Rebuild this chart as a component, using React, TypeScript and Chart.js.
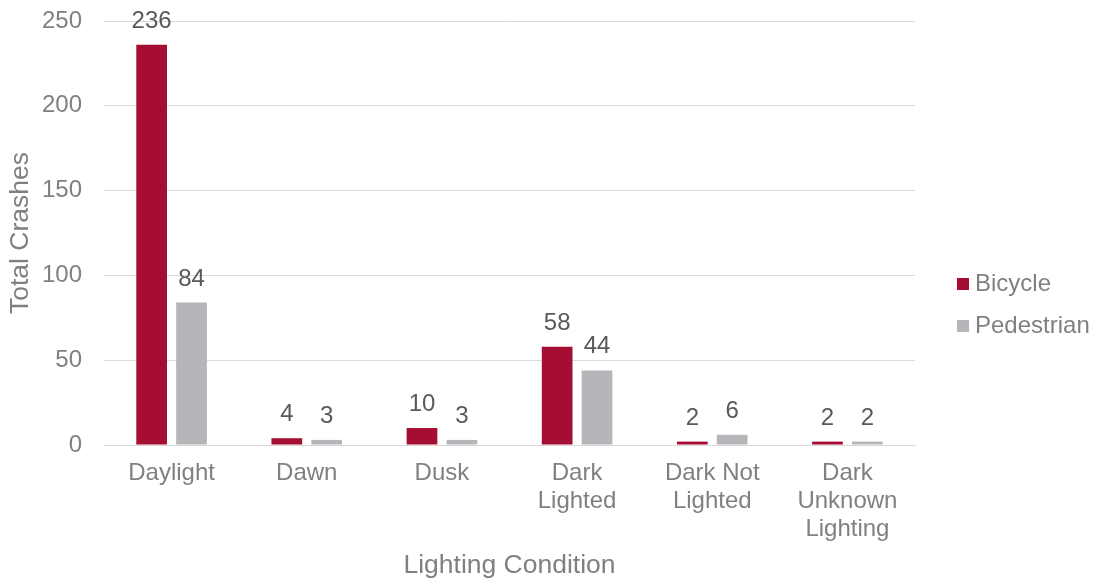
import React, { useEffect, useRef } from "react";
import { Chart, registerables } from "chart.js";

Chart.register(...registerables);

const categories: (string | string[])[] = [
  "Daylight",
  "Dawn",
  "Dusk",
  ["Dark", "Lighted"],
  ["Dark Not", "Lighted"],
  ["Dark", "Unknown", "Lighting"],
];
const bicycleValues = [236, 4, 10, 58, 2, 2];
const pedestrianValues = [84, 3, 3, 44, 6, 2];
const seriesNames = ["Bicycle", "Pedestrian"];
const seriesColors = ["#A50D33", "#B5B6B9"];
const yTicks = [0, 50, 100, 150, 200, 250];

const FONT = "Arial, 'Liberation Sans', Helvetica, sans-serif";
const TEXT_GREY = "#808080";
const LABEL_GREY = "#595959";
const FS = 24;
const TITLE_FS = 26.5;

const dataLabelPlugin = {
  id: "dataLabels",
  afterDatasetsDraw(chart: any) {
    const ctx = chart.ctx;
    ctx.save();
    ctx.font = `${FS}px ${FONT}`;
    ctx.fillStyle = LABEL_GREY;
    ctx.textAlign = "center";
    ctx.textBaseline = "alphabetic";
    chart.data.datasets.forEach((ds: any, di: number) => {
      const meta = chart.getDatasetMeta(di);
      meta.data.forEach((bar: any, i: number) => {
        ctx.fillText(String(ds.data[i]), bar.x, bar.y - 17);
      });
    });
    ctx.restore();
  },
};

const legendPlugin = {
  id: "customLegend",
  afterDraw(chart: any) {
    const ctx = chart.ctx;
    ctx.save();
    ctx.font = `${FS}px ${FONT}`;
    ctx.textBaseline = "middle";
    ctx.textAlign = "left";
    const x = chart.chartArea.right + 42;
    const yStart = 284;
    const step = 42;
    seriesNames.forEach((name, i) => {
      const y = yStart + i * step;
      ctx.fillStyle = seriesColors[i];
      ctx.fillRect(x, y - 6, 12, 12);
      ctx.fillStyle = TEXT_GREY;
      ctx.fillText(name, x + 18, y);
    });
    ctx.restore();
  },
};

export default function App() {
  const canvasRef = useRef<HTMLCanvasElement | null>(null);

  useEffect(() => {
    if (!canvasRef.current) return;
    const chart = new Chart(canvasRef.current, {
      type: "bar",
      data: {
        labels: categories,
        datasets: [
          {
            label: seriesNames[0],
            data: bicycleValues,
            backgroundColor: seriesColors[0],
            categoryPercentage: 0.59,
            barPercentage: 0.77,
          },
          {
            label: seriesNames[1],
            data: pedestrianValues,
            backgroundColor: seriesColors[1],
            categoryPercentage: 0.59,
            barPercentage: 0.77,
          },
        ],
      },
      options: {
        responsive: false,
        animation: false,
        layout: { padding: { top: 21, right: 179, bottom: 0, left: 5 } },
        plugins: {
          legend: { display: false },
          tooltip: { enabled: false },
        },
        scales: {
          x: {
            grid: { display: false, drawTicks: false },
            border: { display: true, color: "#D9D9D9", width: 1 },
            ticks: {
              color: TEXT_GREY,
              font: { family: FONT, size: FS, lineHeight: 1.15 },
              padding: 15,
              maxRotation: 0,
              autoSkip: false,
            },
            title: {
              display: true,
              text: "Lighting Condition",
              color: TEXT_GREY,
              font: { family: FONT, size: TITLE_FS, lineHeight: 1.15 },
              padding: { top: 0, bottom: 2 },
            },
            afterFit(scale: any) {
              scale.height = 138;
              scale.paddingLeft = 0;
              scale.paddingRight = 0;
            },
          },
          y: {
            min: 0,
            max: 250,
            afterBuildTicks(scale: any) {
              scale.ticks = yTicks.map((v) => ({ value: v }));
            },
            grid: { color: "#D9D9D9", drawTicks: false },
            border: { display: false },
            ticks: {
              color: TEXT_GREY,
              font: { family: FONT, size: FS },
              padding: 22,
            },
            title: {
              display: true,
              text: "Total Crashes",
              color: TEXT_GREY,
              font: { family: FONT, size: TITLE_FS, lineHeight: 1.15 },
              padding: { top: 0, bottom: 0 },
            },
            afterFit(scale: any) {
              scale.width = 99;
              scale.paddingTop = 0;
              scale.paddingBottom = 0;
            },
          },
        },
      },
      plugins: [dataLabelPlugin, legendPlugin],
    });
    return () => chart.destroy();
  }, []);

  return (
    <div style={{ position: "absolute", left: 0, top: 0, width: 1094, height: 583, background: "#fff" }}>
      <canvas ref={canvasRef} width={1094} height={583} style={{ display: "block" }} />
    </div>
  );
}
